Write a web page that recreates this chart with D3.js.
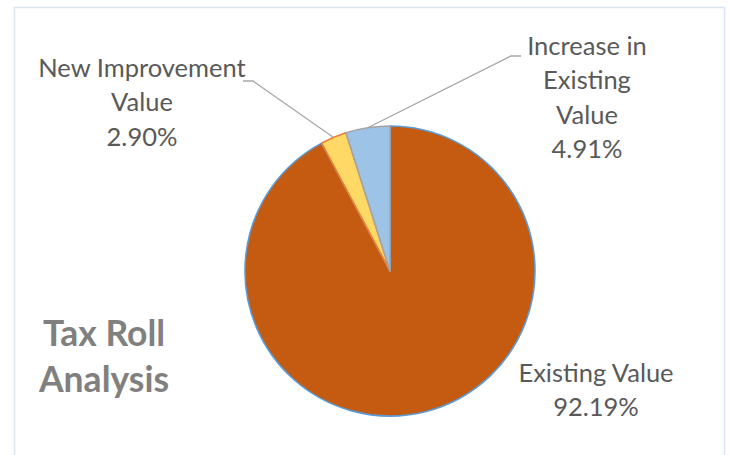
<!DOCTYPE html>
<html>
<head>
<meta charset="utf-8">
<script src="https://cdn.jsdelivr.net/npm/d3@7"></script>
<style>
  body { margin: 0; background: #fff; }
  text { font-family: Lato, "Open Sans", sans-serif; }
</style>
</head>
<body>
<div class="chart"></div>
<script>
// slice data, clockwise from 12 o'clock
const sliceNames = ["Existing Value", "New Improvement Value", "Increase in Existing Value"];
const sliceValues = [92.19, 2.90, 4.91];
const labelLines = [["Existing Value"], ["New Improvement", "Value"], ["Increase in", "Existing", "Value"]];
const sliceFill = ["#C55A11", "#FFD966", "#9DC3E6"];
const sliceStroke = ["#5B9BD5", "#ED7D31", "#A5A5A5"];
const titleLines = ["Tax Roll", "Analysis"];

const width = 730, height = 455;
const cx = 390, cy = 271, radius = 145;
const lineH = 34.3;

const svg = d3.select(".chart")
  .append("svg")
  .attr("width", width)
  .attr("height", height);

// chart frame
svg.append("rect")
  .attr("x", 14.5)
  .attr("y", 7.5)
  .attr("width", 710)
  .attr("height", 470)
  .attr("fill", "#fff")
  .attr("stroke", "#DAE6F3")
  .attr("stroke-width", 1.5);

const pie = d3.pie().sort(null).value(d => d.value);
const data = sliceNames.map((n, i) => ({ name: n, value: sliceValues[i], i: i }));
const arcs = pie(data);
const arc = d3.arc().innerRadius(0).outerRadius(radius);

const g = svg.append("g").attr("transform", `translate(${cx}, ${cy})`);

g.selectAll("path")
  .data(arcs)
  .join("path")
  .attr("d", arc)
  .attr("fill", d => sliceFill[d.data.i])
  .attr("stroke", d => sliceStroke[d.data.i])
  .attr("stroke-width", 1.6)
  .attr("stroke-linejoin", "round");

// label placement (absolute page coords): text centre x, first baseline, leader elbow
const labelLayout = [
  { x: 596, y: 381.5, leader: null },
  { x: 142, y: 77, leader: { textEnd: [243, 81], elbow: [253, 81] } },
  { x: 587, y: 55, leader: { textEnd: [521, 56], elbow: [511, 56] } }
];

const pointOnRim = d => {
  const a = (d.startAngle + d.endAngle) / 2;
  return [cx + radius * Math.sin(a), cy - radius * Math.cos(a)];
};

arcs.forEach(d => {
  const L = labelLayout[d.data.i];
  if (L.leader) {
    const p = pointOnRim(d);
    svg.append("polyline")
      .attr("points", [L.leader.textEnd, L.leader.elbow, p].map(q => q.join(",")).join(" "))
      .attr("fill", "none")
      .attr("stroke", "#A6A6A6")
      .attr("stroke-width", 1.3);
  }
  const lines = labelLines[d.data.i].concat([d3.format(".2f")(d.data.value) + "%"]);
  const t = svg.append("text")
    .attr("text-anchor", "middle")
    .attr("font-size", 25.5)
    .attr("fill", "#595959");
  lines.forEach((s, k) => {
    t.append("tspan")
      .attr("x", L.x)
      .attr("y", L.y + k * lineH)
      .text(s);
  });
});

// title
const title = svg.append("text")
  .attr("text-anchor", "middle")
  .attr("font-size", 35.5)
  .attr("font-weight", "bold")
  .attr("fill", "#808080");
titleLines.forEach((s, k) => {
  title.append("tspan")
    .attr("x", 104)
    .attr("y", 345.5 + k * 46)
    .text(s);
});
</script>
</body>
</html>
